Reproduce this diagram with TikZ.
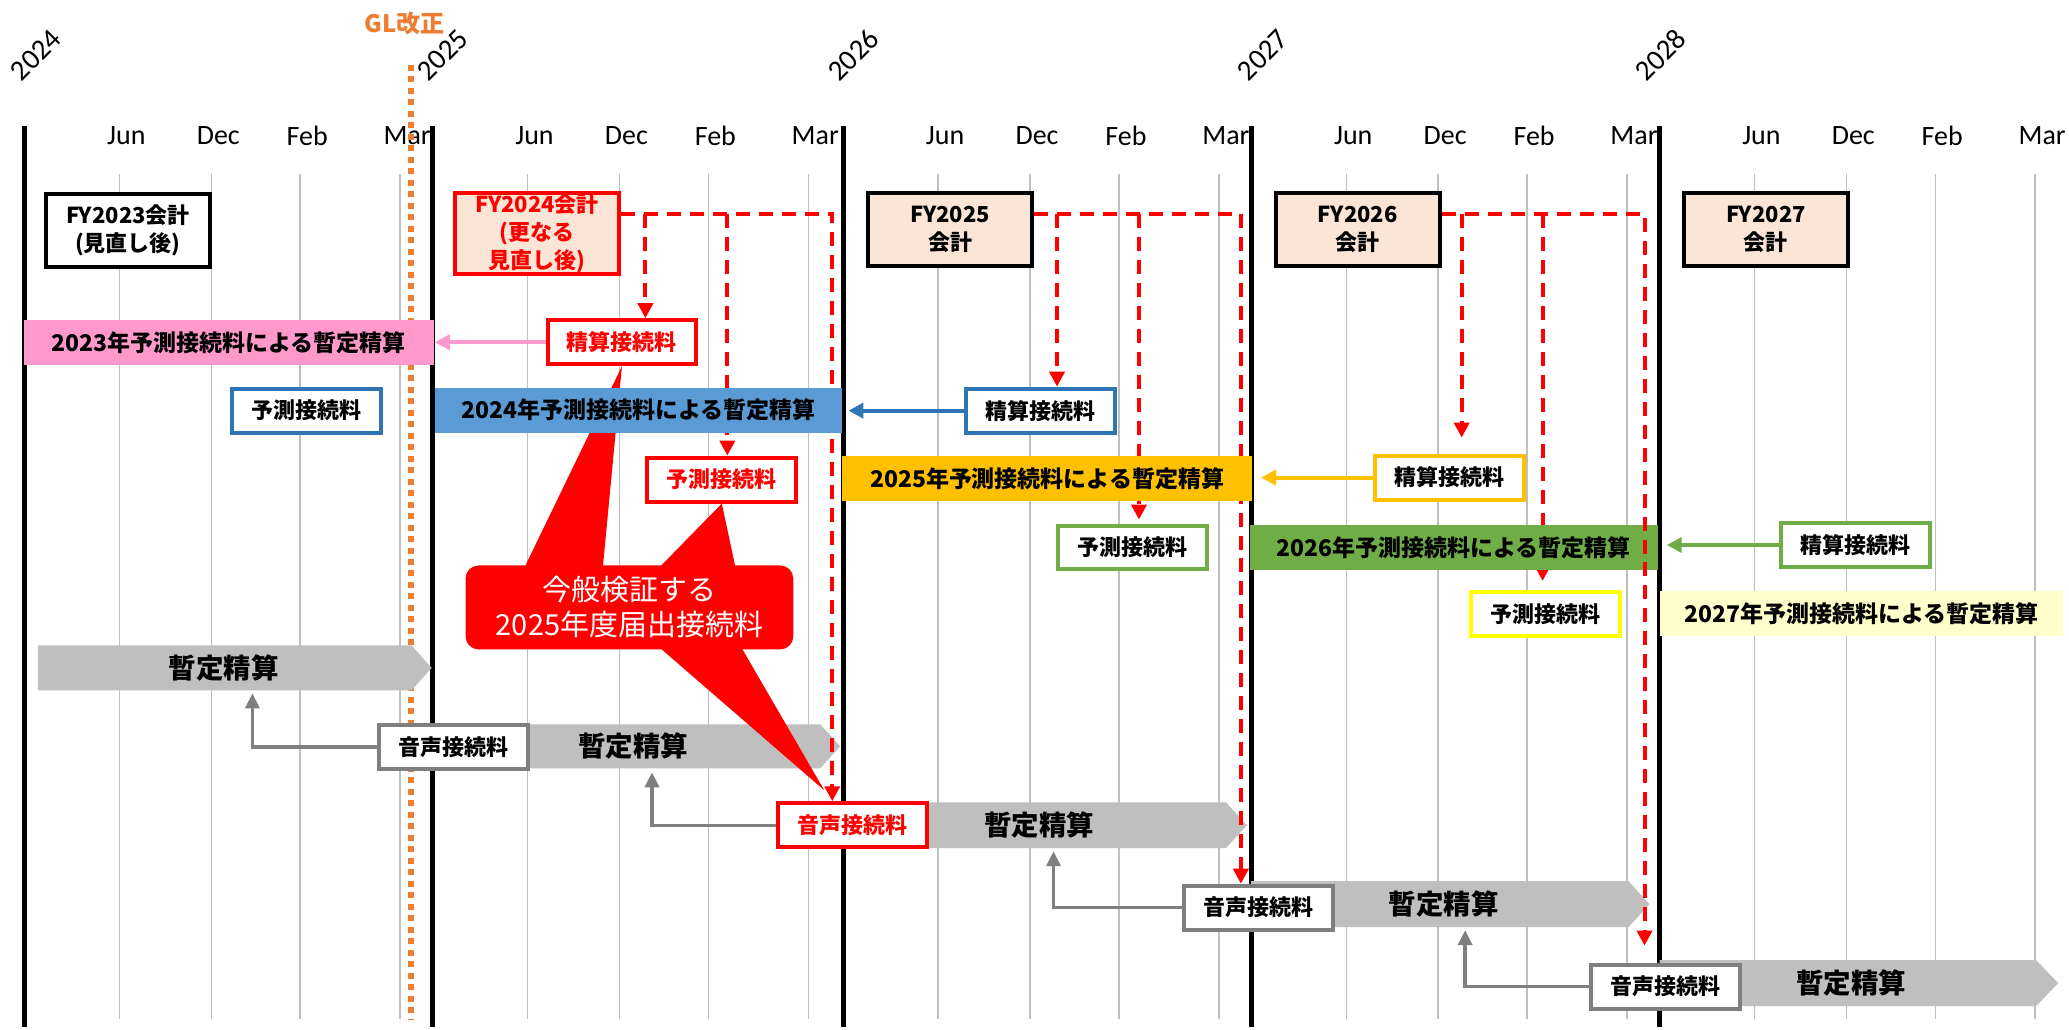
\documentclass[tikz,border=0pt]{standalone}
\usepackage{fontspec}
\setmainfont{Carlito}
\newfontfamily\cjk{Noto Sans CJK JP}
\newfontfamily\carl{Carlito}
\usetikzlibrary{arrows.meta}
\definecolor{cRed}{HTML}{FF0000}
\definecolor{cPink}{HTML}{FF99CC}
\definecolor{cBlueF}{HTML}{5B9BD5}
\definecolor{cBlueB}{HTML}{2E75B6}
\definecolor{cGold}{HTML}{FFC000}
\definecolor{cGreen}{HTML}{70AD47}
\definecolor{cYel}{HTML}{FFFF00}
\definecolor{cLYel}{HTML}{FFFFCC}
\definecolor{cPeach}{HTML}{FBE5D6}
\definecolor{cGBar}{HTML}{BFBFBF}
\definecolor{cGBox}{HTML}{7F7F7F}
\definecolor{cOrange}{HTML}{ED7D31}
\definecolor{cGrid}{HTML}{BFBFBF}
\pgfdeclarelayer{gridlayer}
\pgfdeclarelayer{gbarlayer}
\pgfdeclarelayer{dashlayer}
\pgfdeclarelayer{calllayer}
\pgfdeclarelayer{cbarlayer}
\pgfsetlayers{gridlayer,gbarlayer,dashlayer,calllayer,cbarlayer,main}
\begin{document}
\begin{tikzpicture}[x=1pt,y=-1pt,
 jp/.style={font=\cjk\bfseries\fontsize{22}{28}\selectfont},
 fybox/.style={draw=#1,line width=4pt,minimum width=164pt,minimum height=73pt,inner sep=0pt,align=center,jp},
 sbox/.style={draw=#1,line width=4pt,fill=white,minimum width=149pt,minimum height=44pt,inner sep=0pt,jp},
 cbar/.style={fill=#1,minimum height=45pt,inner sep=0pt,font=\cjk\bfseries\fontsize{23}{28}\selectfont},
 gtext/.style={font=\cjk\bfseries\fontsize{27.5}{27.5}\selectfont},
 month/.style={font=\carl\fontsize{28}{28}\selectfont},
 yearlab/.style={font=\carl\fontsize{29}{29}\selectfont,rotate=45},
 rdash/.style={draw=cRed,line width=4pt,dash pattern=on 14pt off 9pt,-{Triangle[length=15pt,width=15pt]}},
 carr/.style={draw=#1,line width=4pt,-{Triangle[length=15pt,width=15pt]}},
 garr/.style={draw=cGBox,line width=3.5pt,-{Triangle[length=15pt,width=14pt]}},
 chev/.style={fill=cGBar},
]
\begin{pgfonlayer}{gridlayer}
\fill[white] (0,0) rectangle (2069,1030);
\foreach \X [count=\i] in {24.5,433,844,1252.5,1661}{
  \foreach \o/\m in {95/Jun,187/Dec,276/Feb,376/Mar}{
    \draw[cGrid,line width=1.5pt] (\X+\o,174) -- (\X+\o,1020);
    \node[month] (mon\i\m) at (\X+\o+7,136) {\m};
  }
  \draw[line width=5pt] (\X,126) -- (\X,1028);
}
\foreach \yx/\yy [count=\i] in {36/2024,443/2025,854/2026,1264/2027,1662/2028}{
  \node[yearlab] (yr\i) at (\yx,55) {\yy};
}
\node[font=\cjk\bfseries\fontsize{24}{24}\selectfont,text=cOrange] (gl) at (405,23) {GL改正};
\draw[cOrange,line width=6pt,dash pattern=on 6pt off 5.5pt] (411.6,65) -- (411.6,1020);
\end{pgfonlayer}
\useasboundingbox (0,0) rectangle (2069,1030);

% grey chevrons
\begin{pgfonlayer}{gbarlayer}
\fill[chev] (38,646) -- (412,646) -- (432,668.5) -- (412,691) -- (38,691) -- cycle;
\fill[chev] (433,725) -- (821,725) -- (841,747) -- (821,769) -- (433,769) -- cycle;
\fill[chev] (844,803) -- (1227,803) -- (1248,826) -- (1227,849) -- (844,849) -- cycle;
\fill[chev] (1252,882) -- (1630,882) -- (1651,905) -- (1630,928) -- (1252,928) -- cycle;
\fill[chev] (1661,961) -- (2038,961) -- (2060,984) -- (2038,1007) -- (1661,1007) -- cycle;
\node[gtext] (gt1) at (224,668.5) {暫定精算};
\node[gtext] (gt2) at (634,747) {暫定精算};
\node[gtext] (gt3) at (1040,826) {暫定精算};
\node[gtext] (gt4) at (1445,905) {暫定精算};
\node[gtext] (gt5) at (1853,984) {暫定精算};
\end{pgfonlayer}

% voice boxes
\node[sbox=cGBox] (vA) at (454,747.5) {音声接続料};
\node[sbox=cRed,text=cRed] (vB) at (853.5,826) {音声接続料};
\node[sbox=cGBox] (vC) at (1259.5,908.5) {音声接続料};
\node[sbox=cGBox] (vD) at (1667,987.5) {音声接続料};

\coordinate (ga1) at (252.6,694);
\coordinate (ga2) at (652.6,773);
\coordinate (ga3) at (1054.5,852);
\coordinate (ga4) at (1466.5,931);
\draw[garr] (vA.west) -| (ga1);
\draw[garr] (vB.west) -| (ga2);
\draw[garr] (vC.west) -| (ga3);
\draw[garr] (vD.west) -| (ga4);

% FY boxes
\node[fybox=black,fill=white] (fy23) at (128,231) {FY2023会計\\(見直し後)};
\node[fybox=cRed,fill=cPeach,text=cRed,minimum height=81pt] (fy24) at (537.5,233.5) {FY2024会計\\(更なる\\見直し後)};
\node[fybox=black,fill=cPeach] (fy25) at (951,229.5) {FY2025\\会計};
\node[fybox=black,fill=cPeach] (fy26) at (1359,229.5) {FY2026\\会計};
\node[fybox=black,fill=cPeach] (fy27) at (1767.5,229.5) {FY2027\\会計};

% settlement / forecast boxes
\node[sbox=cRed,text=cRed] (s24) at (622.5,342.5) {精算接続料};
\node[sbox=cBlueB] (s25) at (1041.5,411) {精算接続料};
\node[sbox=cGold] (s26) at (1450.5,478) {精算接続料};
\node[sbox=cGreen] (s27) at (1857,545.5) {精算接続料};
\node[sbox=cBlueB] (y23) at (306.5,411) {予測接続料};
\node[sbox=cRed,text=cRed] (y24) at (722.5,480) {予測接続料};
\node[sbox=cGreen] (y25) at (1133.5,548) {予測接続料};
\node[sbox=cYel] (y26) at (1547,614.5) {予測接続料};

% red dashed flows (behind bars)
\coordinate (h24) at (833,214);
\coordinate (b24a) at (646,214);
\coordinate (b24b) at (728,214);
\coordinate (h25) at (1242,214);
\coordinate (b25a) at (1058,214);
\coordinate (b25b) at (1140,214);
\coordinate (h26) at (1646,214);
\coordinate (b26a) at (1463,214);
\coordinate (b26b) at (1544,214);
\begin{pgfonlayer}{dashlayer}
\draw[rdash] (fy24.east |- h24) -- (h24) -- (h24 |- vB.north);
\draw[rdash] (b24a) -- (b24a |- s24.north);
\draw[rdash] (b24b) -- (b24b |- y24.north);
\draw[rdash] (fy25.east |- h25) -- (h25) -- (h25 |- vC.north);
\draw[rdash] (b25a) -- (b25a |- s25.north);
\draw[rdash,shorten >=4pt] (b25b) -- (b25b |- y25.north);
\draw[rdash,shorten >=16pt] (b26a) -- (b26a |- s26.north);
\draw[rdash,shorten >=9pt] (b26b) -- (b26b |- y26.north);
\end{pgfonlayer}

% callout
\coordinate (ap3) at (825,791);
\begin{pgfonlayer}{calllayer}
\fill[cRed] (523,572) -- (s24.south) -- (603,572) -- cycle;
\fill[cRed] (656,572) -- (y24.south) -- (737,572) -- cycle;
\fill[cRed] (660,648) -- (ap3) -- (742,648) -- cycle;
\node[fill=cRed,rounded corners=13pt,minimum width=328pt,minimum height=84pt,inner sep=0pt,align=center,text=white,font=\cjk\fontsize{29}{35}\selectfont] (cl) at (630,608) {今般検証する\\2025年度届出接続料};
\end{pgfonlayer}

% coloured bars
\begin{pgfonlayer}{cbarlayer}
\node[cbar=cPink,minimum width=410pt] (bar23) at (229,343) {2023年予測接続料による暫定精算};
\node[cbar=cBlueF,minimum width=408pt] (bar24) at (639,410.5) {2024年予測接続料による暫定精算};
\node[cbar=cGold,minimum width=410pt] (bar25) at (1048,479) {2025年予測接続料による暫定精算};
\node[cbar=cGreen,minimum width=408pt] (bar26) at (1455,548) {2026年予測接続料による暫定精算};
\node[cbar=cLYel,minimum width=404pt] (bar27) at (1863,614.5) {2027年予測接続料による暫定精算};
\end{pgfonlayer}

% FY2026 main dashed (in front of the green bar)
\draw[rdash,shorten >=17pt] (fy26.east |- h26) -- (h26) -- (h26 |- vD.north);

% settlement arrows
\draw[carr=cPink,shorten >=1pt] (s24.west) -- (s24.west -| bar23.east);
\draw[carr=cBlueB,shorten >=6pt] (s25.west) -- (s25.west -| bar24.east);
\draw[carr=cGold,shorten >=9pt] (s26.west) -- (s26.west -| bar25.east);
\draw[carr=cGreen,shorten >=9pt] (s27.west) -- (s27.west -| bar26.east);
\end{tikzpicture}
\end{document}
